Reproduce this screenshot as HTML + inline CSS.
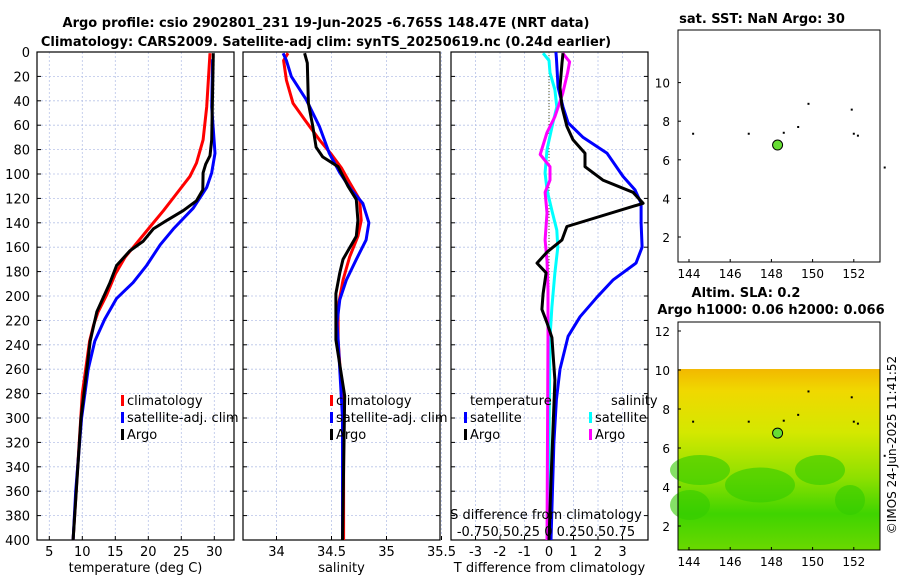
<!DOCTYPE html>
<html><head><meta charset="utf-8"><style>
body{margin:0;background:#fff;}
svg{display:block;font-family:"DejaVu Sans","Liberation Sans",sans-serif;}
</style></head><body>
<svg id="c" width="900" height="580" viewBox="0 0 900 580" xmlns="http://www.w3.org/2000/svg">
<defs>
<linearGradient id="sla" x1="0" y1="0" x2="0" y2="1">
<stop offset="0" stop-color="#f2b800"/><stop offset="0.12" stop-color="#f0d800"/>
<stop offset="0.35" stop-color="#d4e800"/><stop offset="0.6" stop-color="#8ee000"/>
<stop offset="0.8" stop-color="#3fd400"/><stop offset="1" stop-color="#6ad800"/>
</linearGradient>
</defs>
<text x="326" y="27" font-size="13" font-weight="bold" text-anchor="middle">Argo profile: csio 2902801_231 19-Jun-2025 -6.765S 148.47E (NRT data)</text>
<text x="326" y="46" font-size="13" font-weight="bold" text-anchor="middle">Climatology: CARS2009. Satellite-adj clim: synTS_20250619.nc (0.24d earlier)</text>
<g id="g"></g>
<text x="762" y="23" font-size="13" font-weight="bold" text-anchor="middle">sat. SST: NaN Argo: 30</text>
<text x="746" y="297" font-size="13" font-weight="bold" text-anchor="middle">Altim. SLA: 0.2</text>
<text x="771" y="314" font-size="13" font-weight="bold" text-anchor="middle">Argo h1000: 0.06 h2000: 0.066</text>
<text x="0" y="0" font-size="12" transform="translate(896,445) rotate(-90)" text-anchor="middle">©IMOS 24-Jun-2025 11:41:52</text>
</svg>
<script>
// ---- data ----
const depthTicks=[0,20,40,60,80,100,120,140,160,180,200,220,240,260,280,300,320,340,360,380,400];
const tempTicks=[5,10,15,20,25,30];
const salTicks=[34,34.5,35,35.5];
const tdiffTicks=[-3,-2,-1,0,1,2,3];
const tempClimDepth=[1,45,72,91,102,116,130,143,157,168,182,199,213,224,237,280,340,400];
const tempClim=[29.35,28.85,28.3,27.3,26.3,24.3,22.3,20.3,18.2,16.5,15.0,13.7,12.4,11.7,11.1,10.0,9.3,8.6];
const tempSatDepth=[6,45,83,99,111,128,145,158,175,189,202,219,237,260,300,360,400];
const tempSat=[29.75,29.6,30.1,29.6,28.85,26.8,23.8,21.8,19.75,17.7,15.2,13.4,11.9,10.9,9.9,9.0,8.6];
const tempArgoDepth=[1,72,85,92,99,113,122,130,138,145,155,163,175,189,213,237,300,400];
const tempArgo=[29.85,29.6,29.35,28.7,28.3,28.25,27.3,25.3,22.8,20.75,19.25,17.2,15.2,14.2,12.2,11.2,9.8,8.6];
const salClimDepth=[1,7,23,42,56,72,84,95,107,121,138,151,168,187,209,236,300,400];
const salClim=[34.105,34.065,34.09,34.15,34.26,34.39,34.5,34.59,34.665,34.755,34.77,34.74,34.665,34.605,34.56,34.56,34.61,34.61];
const salSatDepth=[1,7,20,39,61,83,99,113,124,140,154,170,187,203,222,236,300,400];
const salSat=[34.06,34.09,34.135,34.27,34.39,34.48,34.575,34.68,34.785,34.84,34.815,34.725,34.635,34.575,34.55,34.56,34.6,34.6];
const salArgoDepth=[1,9,42,61,78,86,94,110,121,138,151,170,181,198,222,236,282,400];
const salArgo=[34.255,34.28,34.29,34.33,34.36,34.42,34.56,34.65,34.725,34.74,34.725,34.605,34.575,34.54,34.54,34.54,34.62,34.6];
const tdSatDepth=[0,5,29,45,58,70,83,102,113,124,140,160,173,187,201,217,233,260,285,320,400];
const tdSat=[0.28,0.3,0.37,0.57,0.78,1.39,2.37,3.02,3.51,3.76,3.76,3.8,3.55,2.61,1.96,1.27,0.78,0.45,0.3,0.2,0.08];
const tdArgoDepth=[1,9,29,45,61,72,83,94,105,115,124,143,154,164,173,181,198,211,222,234,269,351,400];
const tdArgo=[0.57,0.53,0.45,0.53,0.73,0.98,1.47,1.47,2.2,3.43,3.84,0.73,0.53,-0.08,-0.49,-0.12,-0.24,-0.29,-0.08,0.12,0.24,0.08,0.0];
const sdSatDepth=[1,7,17,31,45,58,80,99,113,130,146,160,181,209,234,400];
const sdSat=[-0.06,0,0.01,0.06,0.08,0.04,-0.02,-0.04,-0.02,0.03,0.08,0.09,0.06,0.03,0.01,-0.01];
const sdArgoDepth=[1,8,17,34,53,66,84,94,105,115,132,154,171,195,234,400];
const sdArgo=[0.14,0.21,0.19,0.14,0.06,-0.02,-0.09,0.01,0.01,-0.04,-0.02,-0.04,-0.02,-0.01,-0.01,-0.02];
const mapXTicks=[144,146,148,150,152];
const mapY1Ticks=[2,4,6,8,10];
const mapY2Ticks=[2,4,6,8,10,12];
const argoLon=[148.3];
const argoLat=[6.765];
const dotLon=[144.2,146.9,148.6,149.3,149.8,151.9,152.0,152.2,153.5];
const dotLat=[7.35,7.35,7.4,7.7,8.9,8.6,7.35,7.25,5.6];

// ---- helpers ----
const NS="http://www.w3.org/2000/svg";
const G=document.getElementById('g');
function mk(t,a,p){const e=document.createElementNS(NS,t);for(const k in a)e.setAttribute(k,a[k]);(p||G).appendChild(e);return e;}
const yD=d=>52+d*1.22;
const panels=[
 {x0:37,x1:234,f:v=>49.3+(v-5)*6.6,ticks:tempTicks,label:'temperature (deg C)',name:'temperature'},
 {x0:243,x1:440,f:v=>276.5+(v-34)*110,ticks:salTicks,label:'salinity',name:'salinity'},
 {x0:451,x1:648,f:v=>549+v*24.5,ticks:tdiffTicks,label:'T difference from climatology',name:'difference'}];
const sX=v=>549+v*98;

panels.forEach((p,i)=>{
 const g=mk('g',{});
 
 
 depthTicks.forEach(d=>{const l=mk('line',{x1:p.x0,x2:p.x1,y1:yD(d),y2:yD(d),stroke:'#b8c4e8','stroke-width':0.8,'stroke-dasharray':'2,2'},g);
   
   mk('line',{x1:p.x0,x2:p.x0+4,y1:yD(d),y2:yD(d),stroke:'#000'},g);mk('line',{x1:p.x1-4,x2:p.x1,y1:yD(d),y2:yD(d),stroke:'#000'},g);});
 p.ticks.forEach(v=>{const x=p.f(v);const l=mk('line',{x1:x,x2:x,y1:52,y2:540,stroke:'#b8c4e8','stroke-width':0.8,'stroke-dasharray':'2,2'},g);
   
   mk('line',{x1:x,x2:x,y1:540,y2:536,stroke:'#000'},g);
   const t=mk('text',{x:x,y:556,'font-size':13,'text-anchor':'middle'},g);t.textContent=v;
   });
 const r=mk('rect',{x:p.x0,y:52,width:p.x1-p.x0,height:488,fill:'none',stroke:'#000','stroke-width':1.2},g);
 
 const t=mk('text',{x:(p.x0+p.x1)/2,y:572,'font-size':13,'text-anchor':'middle'},g);t.textContent=p.label;
 
});
depthTicks.forEach(d=>{const t=mk('text',{x:30,y:yD(d)+5,'font-size':13,'text-anchor':'end'});t.textContent=d;
 });
const zl=mk('line',{x1:549,x2:549,y1:52,y2:540,stroke:'#555522','stroke-width':1,'stroke-dasharray':'1,2'});


function series(depths,vals,fx,color,name){
 const pts=depths.map((d,i)=>fx(vals[i]).toFixed(1)+','+yD(d).toFixed(1)).join(' ');
 const e=mk('polyline',{points:pts,fill:'none',stroke:color,'stroke-width':3,'stroke-linejoin':'round'});
 
 
}
const P=panels;
series(tempClimDepth,tempClim,P[0].f,'#ff0000','temp-climatology-line');
series(tempSatDepth,tempSat,P[0].f,'#0000ff','temp-satellite-line');
series(tempArgoDepth,tempArgo,P[0].f,'#000','temp-argo-line');
series(salClimDepth,salClim,P[1].f,'#ff0000','sal-climatology-line');
series(salSatDepth,salSat,P[1].f,'#0000ff','sal-satellite-line');
series(salArgoDepth,salArgo,P[1].f,'#000','sal-argo-line');
series(tdSatDepth,tdSat,P[2].f,'#0000ff','tdiff-satellite-line');
series(sdSatDepth,sdSat,sX,'#00ffff','sdiff-satellite-line');
series(sdArgoDepth,sdArgo,sX,'#ff00ff','sdiff-argo-line');
series(tdArgoDepth,tdArgo,P[2].f,'#000','tdiff-argo-line');

function leg(x,y,color,text,name){
 const r=mk('rect',{x:x,y:y-10,width:3,height:11,fill:color});
 
 const t=mk('text',{x:x+6,y:y,'font-size':13});t.textContent=text;
 }
leg(121,405,'#ff0000','climatology','legend-climatology');
leg(121,422,'#0000ff','satellite-adj. clim','legend-satellite');
leg(121,439,'#000','Argo','legend-argo');
leg(330,405,'#ff0000','climatology','legend-climatology-2');
leg(330,422,'#0000ff','satellite-adj. clim','legend-satellite-2');
leg(330,439,'#000','Argo','legend-argo-2');
let tt=mk('text',{x:470,y:405,'font-size':13});tt.textContent='temperature';
tt=mk('text',{x:611,y:405,'font-size':13});tt.textContent='salinity';
leg(464,422,'#0000ff','satellite','legend-t-satellite');
leg(464,439,'#000','Argo','legend-t-argo');
leg(589,422,'#00ffff','satellite','legend-s-satellite');
leg(589,439,'#ff00ff','Argo','legend-s-argo');
tt=mk('text',{x:546,y:519,'font-size':13,'text-anchor':'middle'});tt.textContent='S difference from climatology';
tt=mk('text',{x:546,y:536,'font-size':13,'text-anchor':'middle'});tt.textContent='-0.750.50.25 0 0.250.50.75';

// ---- maps ----
const mX=v=>689+(v-144)*20.6;
function mapPanel(y0,y1,yf,yticks,name,heat){
 const g=mk('g',{});
 if(heat){
  const h=mk('rect',{x:678,y:yf(10.05),width:202,height:y1-yf(10.05),fill:'url(#sla)'},g);
  
  [[700,470,60,30],[760,485,70,35],[820,470,50,30],[690,505,40,30],[850,500,30,30]].forEach(b=>{
   mk('ellipse',{cx:b[0],cy:b[1],rx:b[2]/2,ry:b[3]/2,fill:'#33cc00',opacity:0.6},g);});
 }
 const fr=mk('rect',{x:678,y:y0,width:202,height:y1-y0,fill:'none',stroke:'#000'},g);
 
 mapXTicks.forEach(v=>{const x=mX(v);mk('line',{x1:x,x2:x,y1:y1,y2:y1-3,stroke:'#000'},g);
  const t=mk('text',{x:x,y:y1+16,'font-size':12,'text-anchor':'middle'},g);t.textContent=v;
  });
 yticks.forEach(v=>{const y=yf(v);mk('line',{x1:678,x2:681,y1:y,y2:y,stroke:'#000'},g);
  const t=mk('text',{x:670,y:y+5,'font-size':12,'text-anchor':'end'},g);t.textContent=v;
  });
 dotLon.forEach((lo,i)=>{const d=mk('rect',{x:mX(lo)-1,y:yf(dotLat[i])-1,width:2,height:2,fill:'#000'},g);
  });
 argoLon.forEach((lo,i)=>{const c=mk('circle',{cx:mX(lo),cy:yf(argoLat[i]),r:5,fill:'#66dd33',stroke:'#000','stroke-width':1},g);
  });
}
mapPanel(30,262,v=>237-(v-2)*19.3,mapY1Ticks,'sst-map',false);
mapPanel(322,550,v=>526-(v-2)*19.5,mapY2Ticks,'sla-map',true);
</script>
</body></html>
